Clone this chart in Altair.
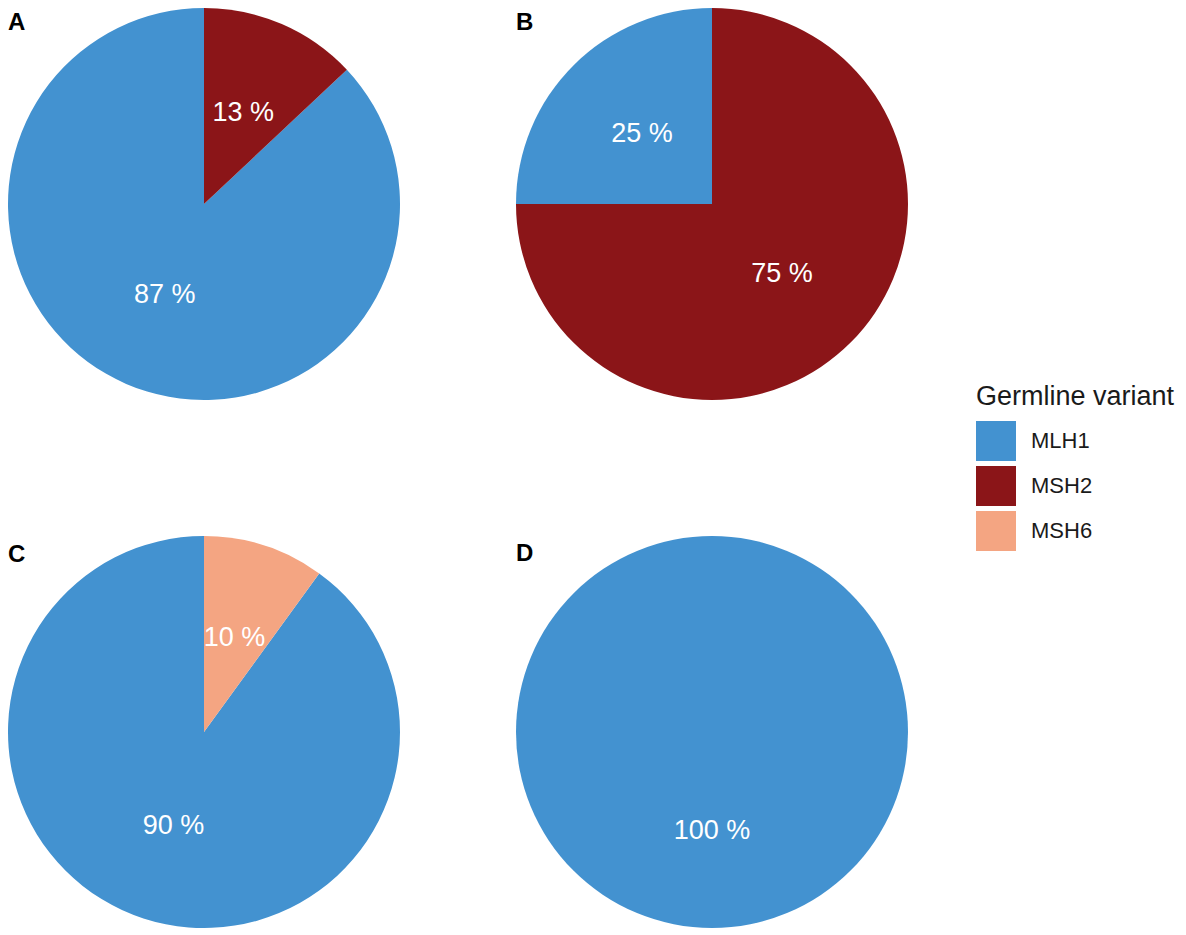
import altair as alt
import pandas as pd

panels = ["A", "A", "B", "B", "C", "C", "D"]
variants = ["MLH1", "MSH2", "MLH1", "MSH2", "MLH1", "MSH6", "MLH1"]
percents = [87, 13, 25, 75, 90, 10, 100]

legend_domain = ["MLH1", "MSH2", "MSH6"]
legend_colors = ["#4392D0", "#8B1518", "#F4A582"]

df = pd.DataFrame({"panel": panels, "variant": variants, "pct": percents})
df["label"] = df["pct"].astype(str) + " %"

FONT = "Liberation Sans"
W = 392


def pie(p, letter_y):
    sub = df[df["panel"] == p]
    base = alt.Chart(sub).encode(
        theta=alt.Theta("pct:Q", stack=True),
        order=alt.Order("variant:N", sort="descending"),
    )
    arcs = base.mark_arc(radius=196, strokeWidth=0).encode(
        color=alt.Color(
            "variant:N",
            scale=alt.Scale(domain=legend_domain, range=legend_colors),
            legend=alt.Legend(title="Germline variant"),
        )
    )
    labels = base.mark_text(radius=99, fontSize=27, color="white", font=FONT).encode(
        text="label:N"
    )
    letter = alt.Chart(pd.DataFrame({"panel": [p]})).mark_text(
        fontSize=24, fontWeight="bold", font=FONT, align="left", baseline="alphabetic", color="black"
    ).encode(text="panel:N", x=alt.value(0), y=alt.value(letter_y))
    return alt.layer(arcs, labels, letter).properties(width=W, height=W)


top = alt.hconcat(pie("A", 22), pie("B", 22), spacing=116)
bottom = alt.hconcat(pie("C", 26), pie("D", 25), spacing=116)

chart = (
    alt.vconcat(top, bottom, spacing=136)
    .properties(padding=0)
    .configure(font=FONT)
    .configure_view(strokeWidth=0)
    .configure_legend(
        orient="none",
        legendX=968,
        legendY=376,
        padding=0,
        titleFontSize=27,
        titleFontWeight="normal",
        titleColor="#1a1a1a",
        titlePadding=10,
        titleLimit=400,
        labelFontSize=22,
        labelColor="#1a1a1a",
        labelOffset=15,
        labelLimit=300,
        symbolType="square",
        symbolSize=1600,
        symbolStrokeWidth=0,
        symbolOpacity=1,
        rowPadding=5,
    )
)

chart.save("out.html", embed_options={"renderer": "svg", "actions": False})
